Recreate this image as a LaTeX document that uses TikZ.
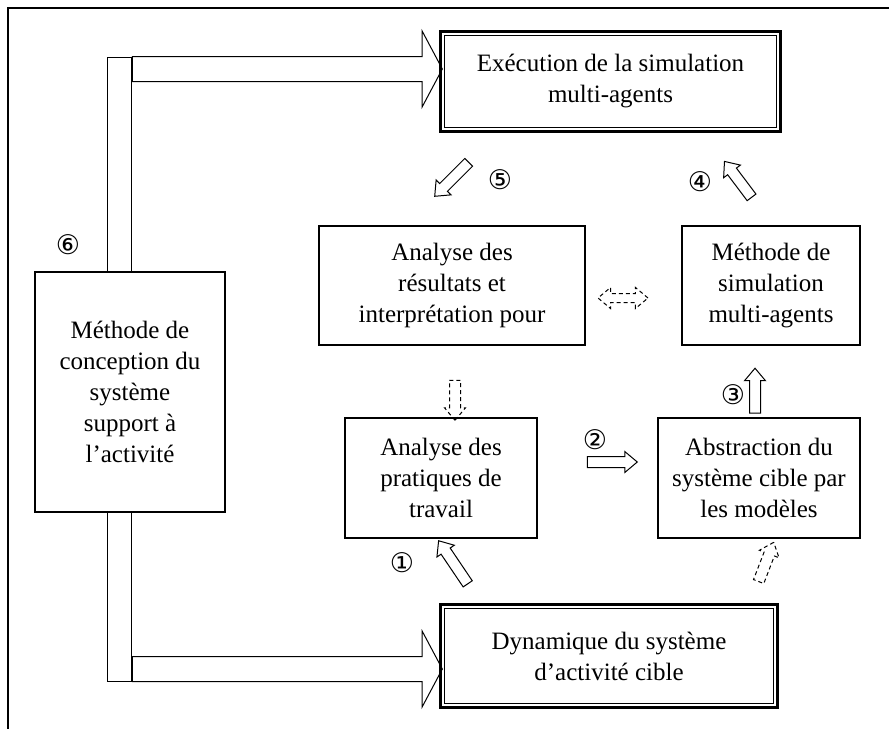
\documentclass[tikz,border=0pt]{standalone}
\usepackage{fontspec}
\setmainfont{Liberation Serif}
\newfontfamily\numfont{DejaVu Sans}
\usetikzlibrary{shapes.arrows,calc}

\begin{document}
\begin{tikzpicture}[x=1pt, y=-1pt, font=\fontsize{25}{31}\selectfont,
	box/.style={draw, line width=1.3pt, align=center, inner sep=0pt},
	dbox/.style={box, line width=2.4pt},
	bigarrow/.style={draw, line width=1pt, single arrow, inner sep=12pt, minimum width=75pt, single arrow head extend=25.5pt, single arrow tip angle=124},
	smallarrow/.style={draw, line width=1pt, single arrow, inner sep=5pt, minimum width=20pt, single arrow head extend=5pt, single arrow tip angle=80},
	dasharrow/.style={smallarrow, dash pattern=on 4pt off 3pt},
	dasharrows/.style={draw, line width=1pt, double arrow, inner sep=4pt, minimum width=20pt, double arrow head extend=6pt, double arrow tip angle=80, dash pattern=on 4pt off 3pt},
	num/.style={font=\numfont\fontsize{27}{27}\selectfont, inner sep=0pt}]
	\useasboundingbox (0,0) rectangle (889,729);
	\draw[line width=1.5pt] (889,8) -- (8,8) -- (8,729);
	% boxes
	\node[dbox, minimum width=340pt, minimum height=100pt] (exec) at (610.5,81.5) {Exécution de la simulation\\multi-agents};
	\node[dbox, minimum width=337pt, minimum height=103pt] (dyn) at (609,656) {Dynamique du système\\d’activité cible};
	\draw[line width=1.2pt] ($(exec.north west)+(5,5)$) rectangle ($(exec.south east)+(-5,-5)$);
	\draw[line width=1.2pt] ($(dyn.north west)+(5,5)$) rectangle ($(dyn.south east)+(-5,-5)$);
	\node[box, minimum width=190pt, minimum height=240pt] (concep) at (130,392) {Méthode de\\conception du\\système\\support à\\l’activité};
	\node[box, minimum width=266pt, minimum height=119pt] (resul) at (452,285.5) {Analyse des\\résultats et\\interprétation pour};
	\node[box, minimum width=178pt, minimum height=119pt] (simu) at (771,285.5) {Méthode de\\simulation\\multi-agents};
	\node[box, minimum width=192pt, minimum height=120pt] (prat) at (441,478) {Analyse des\\pratiques de\\travail};
	\node[box, minimum width=202pt, minimum height=120pt] (abst) at (759,478) {Abstraction du\\système cible par\\les modèles};
	% big arrows from the design method
	\node[bigarrow, minimum height=310pt] (fexec) at (284,69) {};
	\node[bigarrow, minimum height=310pt] (fdyn) at (284,669) {};
	\draw[line width=1pt] ($(fexec.tail)+(-24,-12)$) rectangle (concep.north -| fexec.tail);
	\draw[line width=1pt] ($(fdyn.tail)+(-24,12)$) rectangle (concep.south -| fdyn.tail);
	% numbered arrows
	\node[smallarrow, minimum height=52pt, rotate=124] (a1) at (455,565) {};
	\node[smallarrow, minimum height=50pt] (a2) at (609,462) {};
	\node[smallarrow, minimum height=45pt, rotate=90] (a3) at (755,394) {};
	\node[smallarrow, minimum height=45pt, rotate=127] (a4) at (740,182) {};
	\node[smallarrow, minimum height=48pt, rotate=225] (a5) at (454,177) {};
	% dashed arrows
	\node[dasharrow, minimum height=40pt, rotate=270] (d1) at (455,397) {};
	\node[dasharrows, minimum height=50pt] (d2) at (623,298) {};
	\node[dasharrow, minimum height=42pt, rotate=69] (d3) at (765,565) {};
	% numbers
	\node[num] (n1) at (402,563) {①};
	\node[num] (n2) at (595,440) {②};
	\node[num] (n3) at (733,395) {③};
	\node[num] (n4) at (700,182) {④};
	\node[num] (n5) at (500,180) {⑤};
	\node[num] (n6) at (68,245) {⑥};
\end{tikzpicture}
\end{document}
